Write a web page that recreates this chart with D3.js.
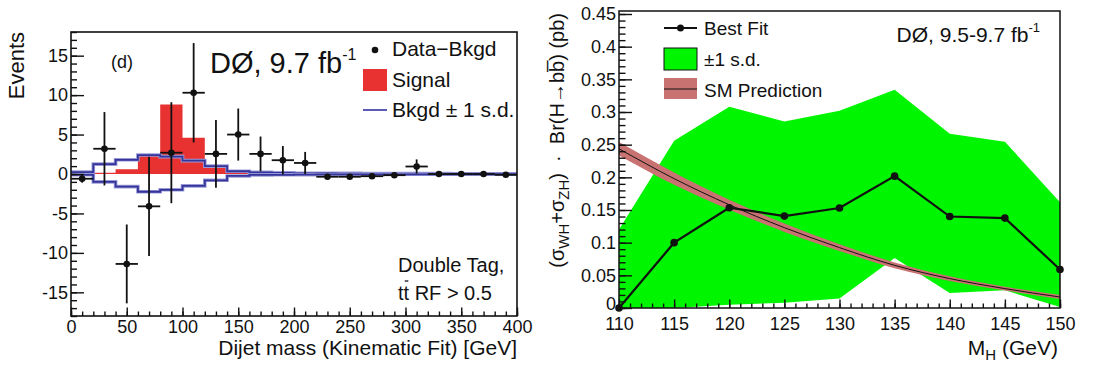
<!DOCTYPE html>
<html lang="en">
<head>
<meta charset="UTF-8">
<title>D0 dijet mass and WH/ZH best fit</title>
<script src="https://d3js.org/d3.v7.min.js"></script>
<style>
  body { margin: 0; background: white; }
  svg text { font-family: "Liberation Sans", Arial, Helvetica, sans-serif; fill: #111; }
  .axis path { stroke: none; }
  .axis line { stroke: #111; stroke-width: 1.4; }
  .axis text { font-size: 18px; }
</style>
</head>
<body>
<script>
// ---- left panel: Data - Bkgd in dijet mass, 20 GeV bins ----
const binCenters = [10, 30, 50, 70, 90, 110, 130, 150, 170, 190, 210, 230, 250, 270, 290, 310, 330, 350, 370, 390];
const dataMinusBkgd = [-0.6, 3.2, -11.4, -4.1, 2.7, 10.3, 2.55, 5.0, 2.55, 1.75, 1.4, -0.35, -0.35, -0.28, -0.15, 0.95, 0.0, 0.0, 0.0, -0.1];
const dataErr = [0.5, 4.65, 5.0, 6.3, 6.4, 6.3, 4.3, 3.3, 2.2, 1.8, 1.4, 0.3, 0.3, 0.3, 0.3, 0.9, 0.2, 0.2, 0.2, 0.2];
const signal = [0.1, 0.15, 0.6, 2.3, 8.8, 4.6, 0.9, 0.3, 0.15, 0.1, 0.05, 0.05, 0.03, 0.03, 0.02, 0.02, 0.02, 0.01, 0.01, 0.01];
const bkgdUp = [0.25, 1.25, 1.8, 2.4, 2.2, 1.7, 1.0, 0.35, 0.2, 0.15, 0.1, 0.1, 0.08, 0.06, 0.05, 0.05, 0.05, 0.04, 0.04, 0.04];
const bkgdDown = [-0.1, -1.0, -1.6, -2.25, -2.0, -1.5, -0.8, -0.25, -0.12, -0.1, -0.08, -0.06, -0.05, -0.05, -0.04, -0.04, -0.04, -0.03, -0.03, -0.03];
const halfBin = 10;
const leftXTicks = [0, 50, 100, 150, 200, 250, 300, 350, 400];
const leftYTicks = [-15, -10, -5, 0, 5, 10, 15];

// ---- right panel: best fit cross section vs M_H ----
const mH = [110, 115, 120, 125, 130, 135, 140, 145, 150];
const bestFit = [0, 0.1, 0.1535, 0.1407, 0.153, 0.2018, 0.140, 0.1376, 0.059];
const oneSdHigh = [0.12, 0.256, 0.308, 0.2855, 0.302, 0.334, 0.2667, 0.2545, 0.162];
const oneSdLow = [0, 0, 0.005, 0.008, 0.0144, 0.0765, 0.023, 0.027, 0.0015];
const smPred = [0.2437, 0.198, 0.158, 0.123, 0.0924, 0.0653, 0.045, 0.0297, 0.0168];
const smHigh = [0.254, 0.2075, 0.1657, 0.1295, 0.0974, 0.0698, 0.0485, 0.0325, 0.0198];
const smLow = [0.2335, 0.1885, 0.1503, 0.1165, 0.0874, 0.0608, 0.0415, 0.0269, 0.0138];
const rightXTicks = [110, 115, 120, 125, 130, 135, 140, 145, 150];
const rightYTicks = [0, 0.05, 0.1, 0.15, 0.2, 0.25, 0.3, 0.35, 0.4, 0.45];
const rightYTickLabels = ["0", "0.05", "0.1", "0.15", "0.2", "0.25", "0.3", "0.35", "0.4", "0.45"];

const svg = d3.select("body").append("svg")
    .attr("width", 1096).attr("height", 368);

// ================= left panel =================
const L = svg.append("g");
const lx = d3.scaleLinear().domain([0, 400]).range([71, 517]);
const ly = d3.scaleLinear().domain([-18, 18]).range([316, 32]);

// signal histogram
const stepPts = vals => binCenters.map((c, i) => [c - halfBin, vals[i]])
    .concat([[binCenters[binCenters.length - 1] + halfBin, vals[vals.length - 1]]]);

L.append("path")
    .datum(stepPts(signal))
    .attr("fill", "#e83232")
    .attr("d", d3.area().curve(d3.curveStepAfter)
        .x(d => lx(d[0])).y0(ly(0)).y1(d => ly(d[1])));

// background +-1 s.d. outlines
const stepLine = d3.line().curve(d3.curveStepAfter).x(d => lx(d[0])).y(d => ly(d[1]));
[bkgdUp, bkgdDown].forEach(v => {
    L.append("path").datum(stepPts(v)).attr("fill", "none")
        .attr("stroke", "#9a9ad8").attr("stroke-width", 3.6).attr("d", stepLine);
    L.append("path").datum(stepPts(v)).attr("fill", "none")
        .attr("stroke", "#34349a").attr("stroke-width", 1.8).attr("d", stepLine);
});

// data points with error bars
const pts = L.append("g").selectAll("g").data(binCenters).enter().append("g");
pts.append("line")
    .attr("x1", d => lx(d - halfBin)).attr("x2", d => lx(d + halfBin))
    .attr("y1", (d, i) => ly(dataMinusBkgd[i])).attr("y2", (d, i) => ly(dataMinusBkgd[i]))
    .attr("stroke", "#111").attr("stroke-width", 1.8);
pts.append("line")
    .attr("x1", d => lx(d)).attr("x2", d => lx(d))
    .attr("y1", (d, i) => ly(dataMinusBkgd[i] - dataErr[i]))
    .attr("y2", (d, i) => ly(dataMinusBkgd[i] + dataErr[i]))
    .attr("stroke", "#111").attr("stroke-width", 1.8);
pts.append("circle")
    .attr("cx", d => lx(d)).attr("cy", (d, i) => ly(dataMinusBkgd[i]))
    .attr("r", 3.3).attr("fill", "#111");

// frame + axes
L.append("rect").attr("x", 71).attr("y", 32).attr("width", 446).attr("height", 284)
    .attr("fill", "none").attr("stroke", "#111").attr("stroke-width", 1.6);

L.append("g").attr("class", "axis").attr("transform", "translate(71,0)")
    .call(d3.axisLeft(ly).tickValues(d3.range(-18, 19, 1)).tickSize(-6).tickFormat(""));
L.append("g").attr("class", "axis").attr("transform", "translate(71,0)")
    .call(d3.axisLeft(ly).tickValues(leftYTicks).tickSize(-13).tickPadding(3).tickFormat(d => d));
L.append("g").attr("class", "axis").attr("transform", "translate(0,316)")
    .call(d3.axisBottom(lx).tickValues(d3.range(0, 401, 10)).tickSize(-4.5).tickFormat(""));
L.append("g").attr("class", "axis").attr("transform", "translate(0,316)")
    .call(d3.axisBottom(lx).tickValues(leftXTicks).tickSize(-8.5).tickPadding(4).tickFormat(d => d));

L.append("text").attr("transform", "translate(24,32) rotate(-90)")
    .attr("text-anchor", "end").attr("font-size", 22).text("Events");
L.append("text").attr("x", 517).attr("y", 355).attr("text-anchor", "end")
    .attr("font-size", 21).text("Dijet mass (Kinematic Fit) [GeV]");

L.append("text").attr("x", 111).attr("y", 68).attr("font-size", 18).text("(d)");
const d0L = L.append("text").attr("x", 210).attr("y", 73).attr("font-size", 29);
d0L.append("tspan").text("DØ, 9.7 fb");
d0L.append("tspan").attr("dy", -13).attr("font-size", 16).text("-1");

// legend
L.append("circle").attr("cx", 375).attr("cy", 50).attr("r", 3.3).attr("fill", "#111");
L.append("text").attr("x", 392).attr("y", 56).attr("font-size", 21).text("Data\u2212Bkgd");
L.append("rect").attr("x", 363).attr("y", 69).attr("width", 24).attr("height", 22).attr("fill", "#e83232");
L.append("text").attr("x", 392).attr("y", 87).attr("font-size", 21).text("Signal");
L.append("line").attr("x1", 363).attr("x2", 387).attr("y1", 110).attr("y2", 110)
    .attr("stroke", "#5a5ab8").attr("stroke-width", 2);
L.append("text").attr("x", 392).attr("y", 117).attr("font-size", 21).text("Bkgd \u00b1 1 s.d.");

L.append("text").attr("x", 398).attr("y", 272).attr("font-size", 20).text("Double Tag,");
const ttText = L.append("text").attr("x", 398).attr("y", 300).attr("font-size", 20).text("tt RF > 0.5");
// short bar over the second t (anti-top)
const tStart = ttText.node().getStartPositionOfChar(1).x;
const tEnd = ttText.node().getEndPositionOfChar(1).x;
L.append("line")
    .attr("x1", tStart + 1.2).attr("x2", tEnd - 0.8)
    .attr("y1", 281).attr("y2", 281)
    .attr("stroke", "#111").attr("stroke-width", 1.3);

// ================= right panel =================
const R = svg.append("g");
const rx = d3.scaleLinear().domain([110, 150]).range([619, 1060]);
const ry = d3.scaleLinear().domain([0, 0.4546]).range([308, 11]);

// +-1 s.d. band
R.append("path").datum(mH)
    .attr("fill", "#00f500")
    .attr("d", d3.area().x(d => rx(d))
        .y0((d, i) => ry(oneSdLow[i])).y1((d, i) => ry(oneSdHigh[i])));

// SM prediction band + line
R.append("path").datum(mH)
    .attr("fill", "#c87272")
    .attr("d", d3.area().curve(d3.curveMonotoneX).x(d => rx(d))
        .y0((d, i) => ry(smLow[i])).y1((d, i) => ry(smHigh[i])));
R.append("path").datum(mH)
    .attr("fill", "none").attr("stroke", "#111").attr("stroke-width", 1)
    .attr("d", d3.line().curve(d3.curveMonotoneX).x(d => rx(d)).y((d, i) => ry(smPred[i])));

// best fit
R.append("path").datum(mH)
    .attr("fill", "none").attr("stroke", "#111").attr("stroke-width", 2.2)
    .attr("d", d3.line().x(d => rx(d)).y((d, i) => ry(bestFit[i])));
R.append("g").selectAll("circle").data(mH).enter().append("circle")
    .attr("cx", d => rx(d)).attr("cy", (d, i) => ry(bestFit[i]))
    .attr("r", 3.8).attr("fill", "#111");

// frame + axes
R.append("rect").attr("x", 619).attr("y", 11).attr("width", 441).attr("height", 297)
    .attr("fill", "none").attr("stroke", "#111").attr("stroke-width", 1.5);

R.append("g").attr("class", "axis").attr("transform", "translate(619,0)")
    .call(d3.axisLeft(ry).tickValues(d3.range(0, 0.451, 0.01)).tickSize(-6.5).tickFormat(""));
const ryAxis = R.append("g").attr("class", "axis").attr("transform", "translate(619,0)")
    .call(d3.axisLeft(ry).tickValues(rightYTicks).tickSize(-13).tickPadding(3)
        .tickFormat((d, i) => rightYTickLabels[i]));
// lift the "0" label a touch so it clears the "110" below it
ryAxis.selectAll(".tick text").filter(d => d === 0).attr("dy", "0.1em");
R.append("g").attr("class", "axis").attr("transform", "translate(0,308)")
    .call(d3.axisBottom(rx).tickValues(d3.range(110, 151, 1)).tickSize(-4.5).tickFormat(""));
R.append("g").attr("class", "axis").attr("transform", "translate(0,308)")
    .call(d3.axisBottom(rx).tickValues(rightXTicks).tickSize(-8.5).tickPadding(9).tickFormat(d => d));

// axis titles
const xt = R.append("text").attr("x", 1058).attr("y", 355).attr("text-anchor", "end").attr("font-size", 21);
xt.append("tspan").text("M");
xt.append("tspan").attr("dy", 5).attr("font-size", 15).text("H");
xt.append("tspan").attr("dy", -5).text(" (GeV)");

const yt = R.append("text").attr("transform", "translate(564,13) rotate(-90)")
    .attr("text-anchor", "end").attr("font-size", 20).style("white-space", "pre");
yt.append("tspan").text("(\u03c3");
yt.append("tspan").attr("dy", 5).attr("font-size", 15).text("WH");
yt.append("tspan").attr("dy", -5).text("+\u03c3");
yt.append("tspan").attr("dy", 5).attr("font-size", 15).text("ZH");
yt.append("tspan").attr("dy", -5).text(")  \u00b7  Br(H\u2192bb\u0305) (pb)");

const d0R = R.append("text").attr("x", 1040).attr("y", 42).attr("text-anchor", "end").attr("font-size", 21);
d0R.append("tspan").text("DØ, 9.5-9.7 fb");
d0R.append("tspan").attr("dy", -10).attr("font-size", 13).text("-1");

// legend
R.append("line").attr("x1", 664).attr("x2", 697).attr("y1", 28).attr("y2", 28)
    .attr("stroke", "#111").attr("stroke-width", 2.2);
R.append("circle").attr("cx", 680.5).attr("cy", 28).attr("r", 3.5).attr("fill", "#111");
R.append("text").attr("x", 704).attr("y", 35).attr("font-size", 19).text("Best Fit");
R.append("rect").attr("x", 664).attr("y", 48).attr("width", 33).attr("height", 22)
    .attr("fill", "#00f500").attr("stroke", "#111").attr("stroke-width", 1);
R.append("text").attr("x", 704).attr("y", 66).attr("font-size", 19).text("\u00b11 s.d.");
R.append("rect").attr("x", 664).attr("y", 78).attr("width", 33).attr("height", 21).attr("fill", "#c87272");
R.append("line").attr("x1", 664).attr("x2", 697).attr("y1", 89).attr("y2", 89)
    .attr("stroke", "#111").attr("stroke-width", 1);
R.append("text").attr("x", 704).attr("y", 97).attr("font-size", 19).text("SM Prediction");
</script>
</body>
</html>
